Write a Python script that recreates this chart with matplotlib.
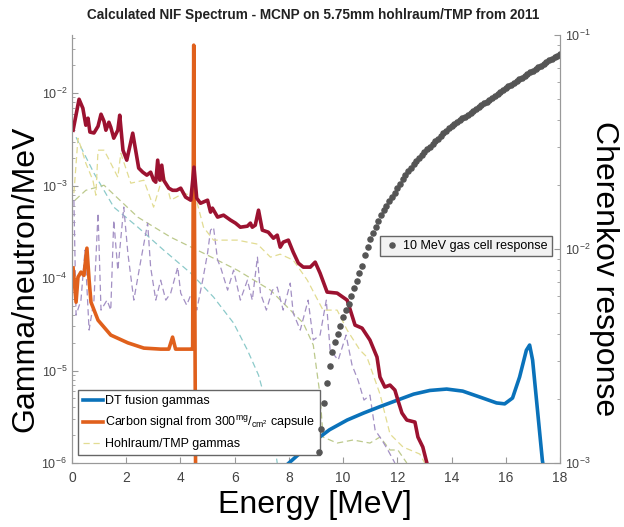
import numpy as np
import matplotlib
matplotlib.use("Agg")
import matplotlib.pyplot as plt
from matplotlib.ticker import LogLocator, NullFormatter

NARROW = ['Liberation Sans Narrow', 'Liberation Sans', 'DejaVu Sans']
plt.rcParams['font.family'] = NARROW
plt.rcParams['mathtext.fontset'] = 'custom'
plt.rcParams['mathtext.rm'] = 'Liberation Sans Narrow'
plt.rcParams['mathtext.it'] = 'Liberation Sans Narrow'
plt.rcParams['mathtext.default'] = 'regular'

# --- data (energy in MeV, values as log10) ---
total_e = [0.04, 0.26, 0.40, 0.51, 0.59, 0.66, 0.81, 0.96, 1.07, 1.18, 1.25, 1.36, 1.43, 1.54,
           1.69, 1.76, 1.88, 2.02, 2.24, 2.46, 2.61, 2.76, 2.90, 3.01, 3.09, 3.16, 3.24, 3.31,
           3.38, 3.57, 3.71, 3.86, 4.01, 4.19, 4.38, 4.50, 4.60, 4.74, 5.00, 5.11, 5.18, 5.37,
           5.59, 5.85, 6.03, 6.21, 6.47, 6.58, 6.65, 6.76, 6.88, 7.02, 7.24, 7.43, 7.57, 7.68,
           7.79, 7.98, 8.16, 8.35, 8.53, 8.79, 8.97, 9.15, 9.41, 9.78, 10.15, 10.44, 10.70,
           10.99, 11.25, 11.36, 11.54, 11.73, 11.91, 12.02, 12.17, 12.35, 12.65, 12.76, 12.94,
           13.09, 13.15]
total_log = [-2.40, -2.065, -2.162, -2.346, -2.27, -2.42, -2.43, -2.357, -2.227, -2.303, -2.40,
             -2.314, -2.368, -2.486, -2.40, -2.238, -2.616, -2.724, -2.432, -2.81, -2.854, -2.886,
             -2.854, -2.94, -2.962, -2.724, -2.94, -2.778, -2.94, -3.027, -3.05, -3.05, -3.027,
             -3.124, -3.157, -2.80, -3.135, -3.19, -3.157, -3.286, -3.243, -3.34, -3.319, -3.373,
             -3.405, -3.449, -3.438, -3.405, -3.449, -3.427, -3.265, -3.481, -3.503, -3.568,
             -3.535, -3.665, -3.611, -3.589, -3.719, -3.838, -3.881, -3.881, -3.827, -3.946,
             -4.151, -4.162, -4.238, -4.508, -4.541, -4.67, -4.854, -5.07, -5.178, -5.157,
             -5.211, -5.319, -5.459, -5.535, -5.557, -5.719, -5.827, -6.0, -6.1]

carbon_e = [0.04, 0.15, 0.22, 0.33, 0.44, 0.55, 0.63, 0.70, 0.96, 1.43, 2.06, 2.65, 3.27,
            3.57, 3.71, 3.82, 4.38, 4.45, 4.49, 4.56]
carbon_log = [-3.89, -4.26, -3.99, -3.935, -3.97, -3.676, -4.02, -4.26, -4.455, -4.616, -4.70,
              -4.757, -4.768, -4.768, -4.638, -4.768, -4.768, -4.768, -1.48, -6.2]

dt_e = [8.0, 8.5, 9.0, 9.5, 10.15, 10.75, 11.36, 12.0, 12.6, 13.2, 13.82, 14.41, 15.04,
        15.66, 15.96, 16.25, 16.51, 16.76, 16.88, 16.99, 17.17, 17.35, 17.42]
dt_log = [-6.0, -5.87, -5.75, -5.64, -5.535, -5.46, -5.39, -5.32, -5.255, -5.215, -5.2,
          -5.222, -5.286, -5.35, -5.36, -5.297, -5.07, -4.78, -4.724, -4.886, -5.427, -5.97, -6.1]

teal_e = [0.15, 0.33, 0.81, 1.54, 2.43, 3.38, 4.38, 5.22, 5.96, 6.47, 6.88, 7.13, 7.39, 7.57]
teal_log = [-2.476, -2.584, -2.865, -3.232, -3.449, -3.697, -3.946, -4.205, -4.486, -4.778,
            -5.049, -5.319, -5.643, -6.0]

olive_e = [0.11, 0.51, 1.18, 2.43, 3.64, 4.85, 6.10, 7.32, 8.53, 8.90, 9.15, 9.26, 9.78,
           10.37, 10.99, 11.36, 11.73, 12.02, 12.35]
olive_log = [-3.157, -3.05, -2.995, -3.341, -3.557, -3.73, -3.914, -4.13, -4.486, -4.724,
             -5.265, -5.719, -5.784, -5.751, -5.784, -5.719, -5.859, -5.859, -6.0]

yellow_e = [0.07, 0.22, 0.33, 0.51, 0.77, 0.88, 0.96, 1.18, 1.32, 1.43, 1.69, 1.80, 2.17,
            2.65, 3.01, 3.38, 3.64, 4.12, 4.56, 4.85, 5.22, 6.10, 6.84, 7.32, 7.68, 8.16,
            8.68, 9.26, 9.78, 10.15, 10.62, 10.88, 11.36, 11.73, 12.21, 12.83, 13.01]
yellow_log = [-3.081, -2.487, -2.584, -2.757, -2.941, -3.103, -2.616, -2.616, -2.692, -2.757,
              -2.908, -2.649, -2.973, -2.941, -3.232, -2.865, -3.157, -3.081, -3.124, -3.449,
              -3.589, -3.589, -3.632, -3.773, -3.741, -3.805, -4.022, -4.346, -4.346, -4.562,
              -4.778, -4.854, -5.254, -5.686, -5.827, -5.903, -6.0]

purple_e = [0.07, 0.15, 0.33, 0.48, 0.63, 0.81, 0.96, 1.07, 1.29, 1.43, 1.54, 1.69, 1.91,
            2.06, 2.28, 2.54, 2.79, 2.90, 3.09, 3.27, 3.46, 3.64, 3.90, 4.01, 4.23, 4.45,
            4.60, 4.82, 5.00, 5.11, 5.22, 5.37, 5.48, 5.74, 5.96, 6.21, 6.47, 6.65, 6.84,
            6.95, 7.17, 7.39, 7.57, 7.79, 8.05, 8.16, 8.42, 8.71, 8.90, 9.15, 9.38, 9.52,
            9.82, 10.11, 10.33, 10.55, 10.77, 10.99, 11.18, 11.43, 11.65, 11.91]
purple_log = [-3.157, -4.40, -4.238, -3.697, -4.562, -4.238, -3.297, -4.346, -4.238, -4.346,
              -3.373, -3.914, -3.232, -3.73, -4.238, -3.805, -3.405, -3.881, -4.238, -4.022,
              -4.238, -4.162, -3.881, -4.162, -4.292, -4.13, -4.346, -4.022, -3.73, -3.481,
              -3.449, -3.805, -3.881, -4.13, -3.914, -4.238, -4.022, -4.238, -3.773, -4.162,
              -4.346, -4.13, -4.097, -4.346, -4.054, -4.378, -4.562, -4.238, -4.67, -4.616,
              -4.238, -4.778, -4.886, -4.616, -4.941, -5.103, -5.319, -5.265, -5.643, -5.751,
              -5.859, -6.0]

gas_e = np.arange(91, 181) / 10.0
gas_log = [-2.95, -2.84, -2.72, -2.625, -2.545, -2.48, -2.435, -2.395, -2.36, -2.32,
           -2.285, -2.255, -2.218, -2.18, -2.148, -2.112, -2.078, -2.03, -1.99, -1.955,
           -1.925, -1.895, -1.868, -1.843, -1.82, -1.80, -1.778, -1.758, -1.738, -1.715,
           -1.695, -1.675, -1.655, -1.637, -1.62, -1.605, -1.59, -1.575, -1.562, -1.548,
           -1.535, -1.522, -1.51, -1.497, -1.485, -1.473, -1.46, -1.448, -1.436, -1.425,
           -1.416, -1.407, -1.398, -1.39, -1.381, -1.373, -1.364, -1.356, -1.347, -1.338,
           -1.329, -1.32, -1.311, -1.302, -1.293, -1.284, -1.275, -1.266, -1.257, -1.248,
           -1.240, -1.232, -1.224, -1.215, -1.207, -1.199, -1.191, -1.183, -1.175, -1.166,
           -1.158, -1.150, -1.143, -1.135, -1.127, -1.119, -1.111, -1.104, -1.096, -1.088]

def p(v):
    return 10.0 ** np.asarray(v)

fig = plt.figure(figsize=(6.24, 5.27), dpi=100)
ax = fig.add_axes([0.1154, 0.1214, 0.7820, 0.8122])
ax2 = ax.twinx()

# dashed components
ax.plot(teal_e, p(teal_log), ls=(0, (5, 3)), lw=0.9, color='#8ccaca', zorder=2)
ax.plot(olive_e, p(olive_log), ls=(0, (5, 3)), lw=0.9, color='#bcc98c', zorder=2)
ax.plot(purple_e, p(purple_log), ls=(0, (5, 3)), lw=0.9, color='#a390c4', zorder=2)
h_hohl, = ax.plot(yellow_e, p(yellow_log), ls=(0, (5, 3)), lw=0.9, color='#e2dc92', zorder=2)
# solid lines
h_dt, = ax.plot(dt_e, p(dt_log), color='#0a72ba', lw=2.6, zorder=4)
h_c, = ax.plot(carbon_e, p(carbon_log), color='#e0601c', lw=2.6, zorder=4)
ax.plot(total_e, p(total_log), color='#9c1230', lw=2.6, zorder=5)

ax.set_yscale('log')
ax.set_xlim(0, 18)
ax.set_ylim(1e-6, 10 ** -1.37)
ax.set_xticks(range(0, 19, 2))

ax2.plot(gas_e, p(gas_log), ls='none', marker='o', ms=3.7, color='#555555',
         label='10 MeV gas cell response')
ax2.set_yscale('log')
ax2.set_ylim(1e-3, 1e-1)

for a in (ax, ax2):
    a.spines['top'].set_visible(False)
    for s in a.spines.values():
        s.set_color('#999999')
    a.tick_params(which='both', direction='in', colors='#999999', labelcolor='#444444',
                  labelsize=9)
    a.tick_params(which='major', length=4)
    a.tick_params(which='minor', length=2)
    a.yaxis.set_minor_locator(LogLocator(base=10, subs=np.arange(2, 10)))
    a.yaxis.set_minor_formatter(NullFormatter())
ax.tick_params(axis='x', pad=6, labelsize=10)
ax.yaxis.set_major_locator(LogLocator(base=10, numticks=10))
ax2.yaxis.set_major_locator(LogLocator(base=10, numticks=10))

leg = ax.legend([h_dt, h_c, h_hohl],
                ['DT fusion gammas', 'Carbon signal from 300$^{mg}$/$_{cm^2}$ capsule',
                 'Hohlraum/TMP gammas'],
                loc='lower left', bbox_to_anchor=(0.012, 0.019), fontsize=9,
                fancybox=False, edgecolor='#666666', framealpha=1, handlelength=1.6,
                handletextpad=0.2, borderpad=0.4, labelspacing=0.55, borderaxespad=0)
leg.set_zorder(10)
ax2.legend(loc='center right', bbox_to_anchor=(0.984, 0.507), fontsize=9,
           fancybox=False, edgecolor='#666666', facecolor='#f2f2f2', framealpha=1,
           handlelength=1.2, handletextpad=0.3, borderpad=0.35, borderaxespad=0)

fig.suptitle('Calculated NIF Spectrum - MCNP on 5.75mm hohlraum/TMP from 2011',
             x=0.502, y=0.985, fontsize=9.8, fontweight='bold', color='#222222')

big = ['Liberation Sans', 'DejaVu Sans']
fig.text(0.040, 0.47, 'Gamma/neutron/MeV', rotation=90, ha='center', va='center',
         fontsize=23, family=big)
fig.text(0.968, 0.49, 'Cherenkov response', rotation=270, ha='center', va='center',
         fontsize=23, family=big)
fig.text(0.505, 0.042, 'Energy [MeV]', ha='center', va='center', fontsize=23, family=big)

fig.savefig('out.png', dpi=100)
